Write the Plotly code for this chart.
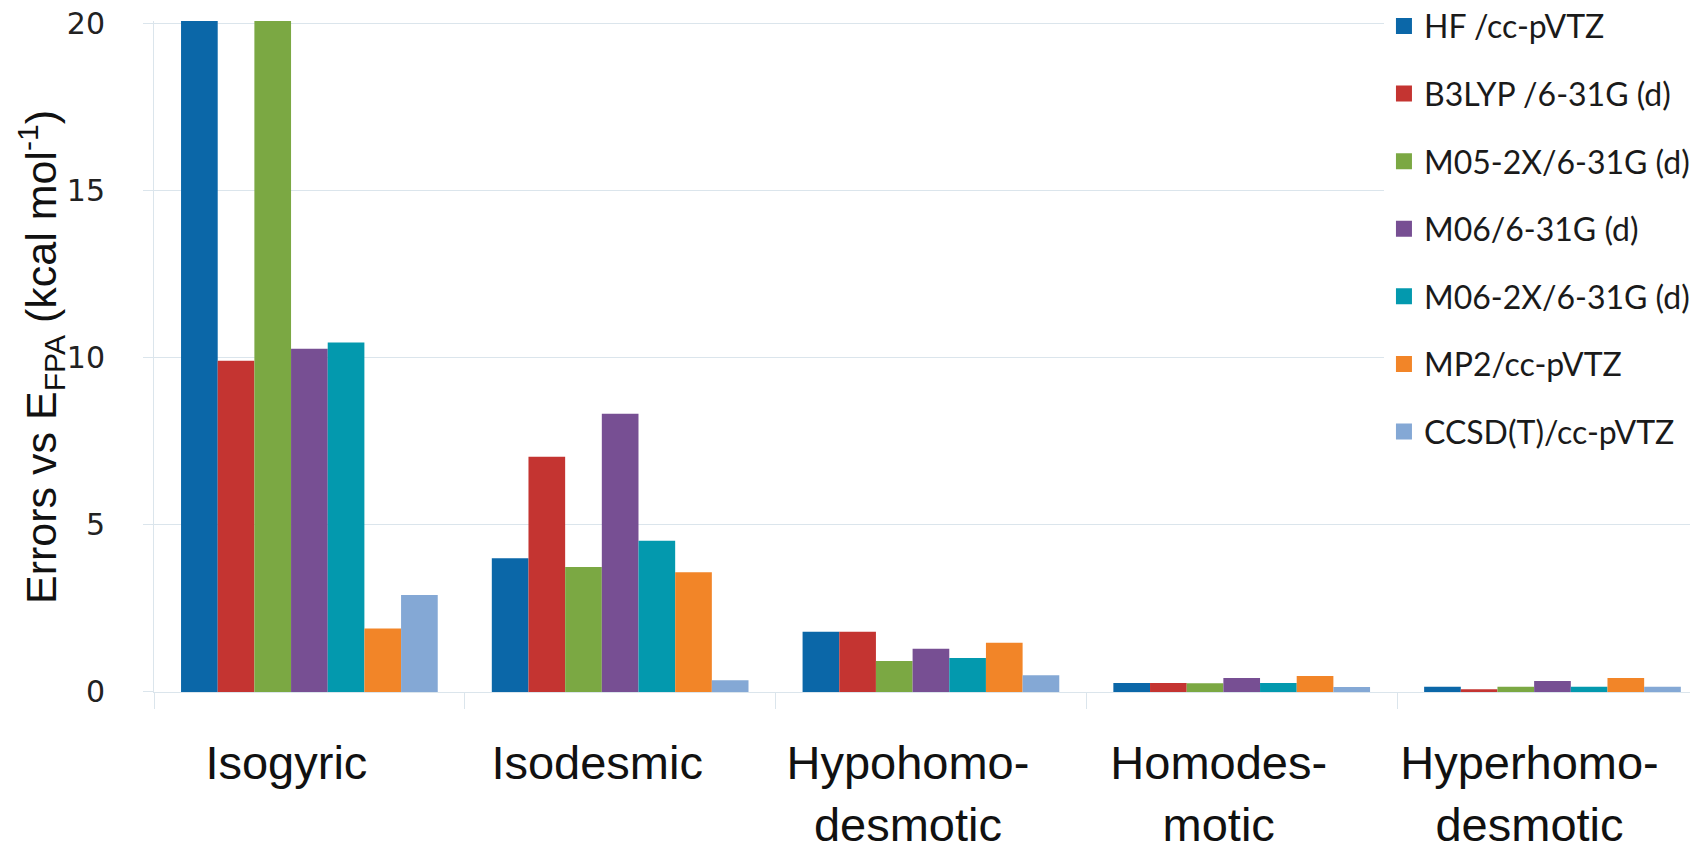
import plotly.graph_objects as go

categories = ["Isogyric", "Isodesmic", "Hypohomo-<br>desmotic", "Homodes-<br>motic", "Hyperhomo-<br>desmotic"]
methods = ["HF /cc-pVTZ", "B3LYP /6-31G (d)", "M05-2X/6-31G (d)", "M06/6-31G (d)",
           "M06-2X/6-31G (d)", "MP2/cc-pVTZ", "CCSD(T)/cc-pVTZ"]
colors = ["#0b67a8", "#c43431", "#7ba843", "#774f93", "#0399ae", "#f28528", "#84a8d5"]

hf = [20.1, 4.0, 1.80, 0.27, 0.16]
b3lyp = [9.9, 7.03, 1.80, 0.27, 0.08]
m052x = [20.1, 3.74, 0.93, 0.26, 0.16]
m06 = [10.26, 8.32, 1.29, 0.42, 0.33]
m062x = [10.45, 4.52, 1.02, 0.27, 0.16]
mp2 = [1.9, 3.58, 1.47, 0.48, 0.42]
ccsdt = [2.9, 0.35, 0.50, 0.15, 0.16]
series = [hf, b3lyp, m052x, m06, m062x, mp2, ccsdt]

y_ticks = [0, 5, 10, 15, 20]

fig = go.Figure()
for name, vals, col in zip(methods, series, colors):
    fig.add_trace(go.Bar(x=categories, y=vals, name=name, marker=dict(color=col, line=dict(width=0)),
                         showlegend=False))
    fig.add_trace(go.Scatter(x=[None], y=[None], mode="markers", name=name, legendgroup=name,
                             marker=dict(symbol="square", size=18, color=col)))

grid = "#dbe5ec"
fig.update_layout(
    width=1698, height=842,
    margin=dict(l=146, r=0, t=0, b=158, autoexpand=False),
    paper_bgcolor="white", plot_bgcolor="white",
    barmode="group", bargap=0.174, bargroupgap=0,
    showlegend=True,
    legend=dict(x=0.7925, y=1.0137, xanchor="left", yanchor="top", maxheight=830,
                bgcolor="white", tracegroupgap=23,
                font=dict(family="Lato", size=32, color="#1a1a1a")),
    xaxis=dict(type="category", range=[-0.5, 4.494], tickson="boundaries", automargin=False,
               ticks="outside", ticklen=16, tickcolor=grid, showline=True, linecolor=grid,
               tickfont=dict(family="Liberation Sans", size=47, color="#111111"),
               ticklabelstandoff=30, ticklabelshift=-23, showgrid=False,
               ticklabeloverflow="allow"),
    yaxis=dict(range=[0, 20.06], domain=[0, 0.981], tickvals=y_ticks, ticks="outside", ticklen=10,
               automargin=False, ticklabeloverflow="allow",
               tickcolor=grid, showline=True, linecolor=grid, gridcolor=grid, gridwidth=1,
               tickfont=dict(family="DejaVu Sans", size=30, color="#222222"),
               ticklabelstandoff=32, zeroline=False),
    annotations=[dict(text="Errors vs E<sub>FPA</sub> (kcal mol<sup>-1</sup>)", textangle=-90,
                      xref="paper", yref="y domain", x=-0.0725, y=0.5, xanchor="center", yanchor="middle",
                      showarrow=False, font=dict(family="Liberation Sans", size=43, color="#111111"))],
)

fig.write_html("out.html")
